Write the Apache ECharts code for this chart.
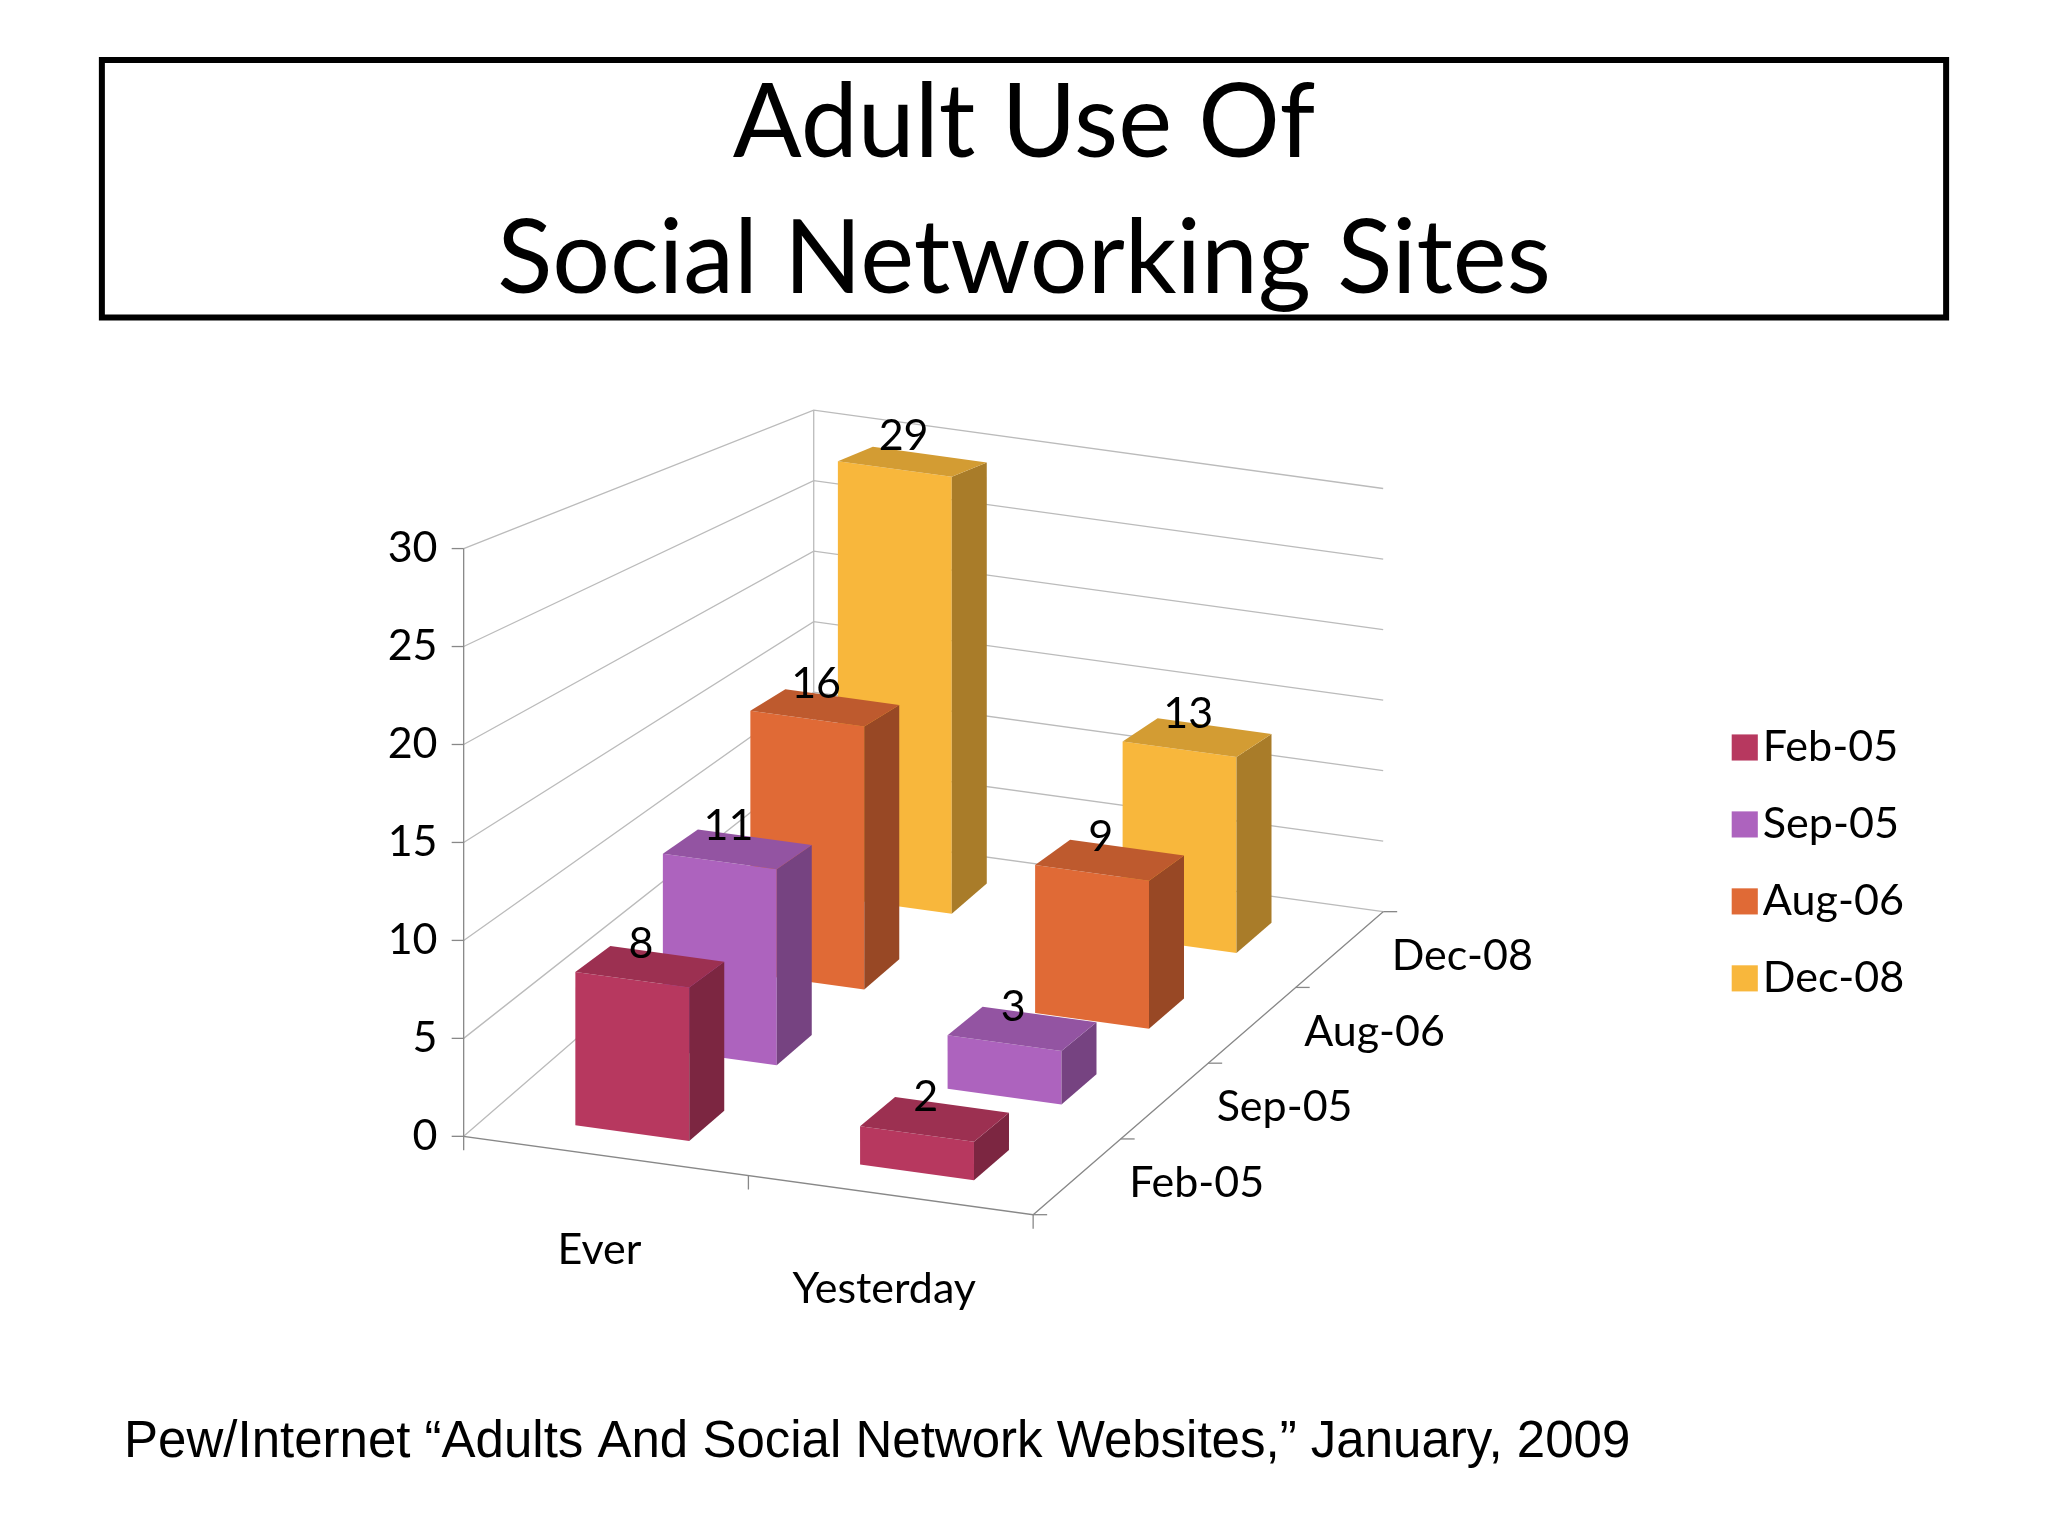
<!DOCTYPE html>
<html>
<head>
<meta charset="utf-8">
<script src="https://cdn.jsdelivr.net/npm/echarts@6/dist/echarts.min.js"></script>
<style>html,body{margin:0;background:#fff}#main{width:2048px;height:1536px}</style>
</head>
<body>
<div id="main"></div>
<script>
var categories = ['Ever', 'Yesterday'];
var seriesNames = ['Feb-05', 'Sep-05', 'Aug-06', 'Dec-08'];
var seriesValues = [[8, 2], [11, 3], [16, 9], [29, 13]];
var yTicks = [0, 5, 10, 15, 20, 25, 30];
var colors = ['#B7385F', '#AD63BE', '#E06A36', '#F8B73C'];

// drawing space is 1568 x 1176 units, scaled to canvas by the axes
var S = 2048 / 1568;
function proj(u, v, h) {
    var k = 1 - 0.07 * v;
    return [355 + u * 218 + v * 67, 870 + u * 30 - v * 58 - h * 15 * k];
}
function shade(hex, f) {
    var n = parseInt(hex.slice(1), 16);
    var r = (n >> 16) & 255, g = (n >> 8) & 255, b = n & 255;
    function c(x) { return Math.max(0, Math.min(255, Math.round(f > 1 ? x + (255 - x) * (f - 1) : x * f))); }
    return 'rgb(' + c(r) + ',' + c(g) + ',' + c(b) + ')';
}

var dom = document.getElementById('main');
var myChart = echarts.init(dom);

function boxItem(row) {
    return function (params, api) {
        var cat = api.value(0), val = api.value(1);
        var u0 = cat + 0.5 - 0.2, u1 = cat + 0.5 + 0.2;
        var v0 = row + 0.3, v1 = row + 0.7;
        function P(u, v, h) { return api.coord(proj(u, v, h)); }
        var col = colors[row];
        var front = [P(u0, v0, 0), P(u1, v0, 0), P(u1, v0, val), P(u0, v0, val)];
        var side = [P(u1, v0, 0), P(u1, v1, 0), P(u1, v1, val), P(u1, v0, val)];
        var top = [P(u0, v0, val), P(u1, v0, val), P(u1, v1, val), P(u0, v1, val)];
        return {
            type: 'group',
            children: [
                { type: 'polygon', shape: { points: front }, style: { fill: col } },
                { type: 'polygon', shape: { points: side }, style: { fill: shade(col, 0.68) } },
                { type: 'polygon', shape: { points: top }, style: { fill: shade(col, 0.85) } }
            ]
        };
    };
}

function labelItem(params, api) {
    var row = api.value(0), cat = api.value(1), val = api.value(2);
    var p = api.coord(proj(cat + 0.5, row + 0.4, val));
    return { type: 'text', x: p[0], y: p[1] - 6 * S,
             style: { text: String(val), fill: '#000', font: Math.round(33 * S) + 'px Lato',
                      align: 'center', verticalAlign: 'bottom' } };
}

function wallItem(params, api) {
    function P(u, v, h) { return api.coord(proj(u, v, h)); }
    var ch = [];
    var ls = { stroke: '#bbb', lineWidth: 1.3, fill: 'none' };
    var as = { stroke: '#888', lineWidth: 1.3, fill: 'none' };
    yTicks.forEach(function (t) {
        ch.push({ type: 'polyline', shape: { points: [P(0, 0, t), P(0, 4, t), P(2, 4, t)] }, style: ls });
        var a = P(0, 0, t);
        ch.push({ type: 'line', shape: { x1: a[0] - 12, y1: a[1], x2: a[0], y2: a[1] }, style: as });
        ch.push({ type: 'text', x: a[0] - 20 * S, y: a[1],
                  style: { text: String(t), fill: '#000', font: Math.round(33 * S) + 'px Lato', align: 'right', verticalAlign: 'middle' } });
    });
    ch.push({ type: 'polyline', shape: { points: [P(0, 4, 0), P(0, 4, 30)] }, style: ls });
    ch.push({ type: 'polyline', shape: { points: [P(0, 0, 30), P(0, 0, 0), P(2, 0, 0), P(2, 4, 0)] }, style: as });
    [0, 1, 2].forEach(function (u) {
        var a = P(u, 0, 0);
        ch.push({ type: 'line', shape: { x1: a[0], y1: a[1], x2: a[0], y2: a[1] + 14 }, style: as });
    });
    [0, 1, 2, 3, 4].forEach(function (v) {
        var a = P(2, v, 0);
        ch.push({ type: 'line', shape: { x1: a[0], y1: a[1], x2: a[0] + 14, y2: a[1] }, style: as });
    });
    categories.forEach(function (c, i) {
        var a = P(i + 0.5, 0, 0);
        ch.push({ type: 'text', x: a[0] - 5 * S, y: a[1] + 72 * S,
                  style: { text: c, fill: '#000', font: Math.round(33 * S) + 'px Lato', align: 'center', verticalAlign: 'middle' } });
    });
    seriesNames.forEach(function (n, r) {
        var a = P(2, r + 0.5, 0);
        ch.push({ type: 'text', x: a[0] + 40 * S, y: a[1] + 5 * S,
                  style: { text: n, fill: '#000', font: Math.round(33 * S) + 'px Lato', align: 'left', verticalAlign: 'middle' } });
    });
    return { type: 'group', children: ch };
}

var series = [{
    type: 'custom', name: 'walls', z: 1, silent: true,
    renderItem: wallItem, data: [[0, 0]], clip: false
}];
var labelData = [];
seriesNames.forEach(function (n, r) {
    series.push({
        type: 'custom', name: n, z: 10 - r, clip: false,
        itemStyle: { color: colors[r] },
        renderItem: boxItem(r),
        data: seriesValues[r].map(function (v, i) { return [i, v]; })
    });
    seriesValues[r].forEach(function (v, i) { labelData.push([r, i, v]); });
});
series.push({
    type: 'custom', name: 'labels', z: 20, silent: true, clip: false,
    renderItem: labelItem, data: labelData, encode: { x: 1, y: 2 }
});

option = {
    animation: false,
    grid: { left: 0, right: 0, top: 0, bottom: 0 },
    xAxis: { type: 'value', min: 0, max: 1568, show: false },
    yAxis: { type: 'value', min: 0, max: 1176, inverse: true, show: false },
    legend: {
        data: seriesNames, orient: 'vertical', left: 1322 * S, top: 552 * S,
        itemWidth: 20 * S, itemHeight: 20 * S, itemGap: 26 * S, icon: 'rect',
        textStyle: { fontSize: 33 * S, fontFamily: 'Lato', color: '#000' }
    },
    graphic: [
        { type: 'rect', shape: { x: 78 * S, y: 46 * S, width: 1412 * S, height: 197 * S },
          style: { fill: 'none', stroke: '#000', lineWidth: 6 } },
        { type: 'text', x: 784 * S, y: 147 * S,
          style: { text: 'Adult Use Of\nSocial Networking Sites', fill: '#000', font: Math.round(78 * S) + 'px Lato',
                   align: 'center', verticalAlign: 'middle', lineHeight: 104 * S } },
        { type: 'text', x: 95 * S, y: 1105 * S,
          style: { text: 'Pew/Internet \u201cAdults And Social Network Websites,\u201d January, 2009', fill: '#000',
                   font: Math.round(39 * S) + 'px "Liberation Sans"', verticalAlign: 'middle' } }
    ],
    series: series
};

if (option && typeof option === "object") {
    myChart.setOption(option, true);
}
</script>
</body>
</html>
